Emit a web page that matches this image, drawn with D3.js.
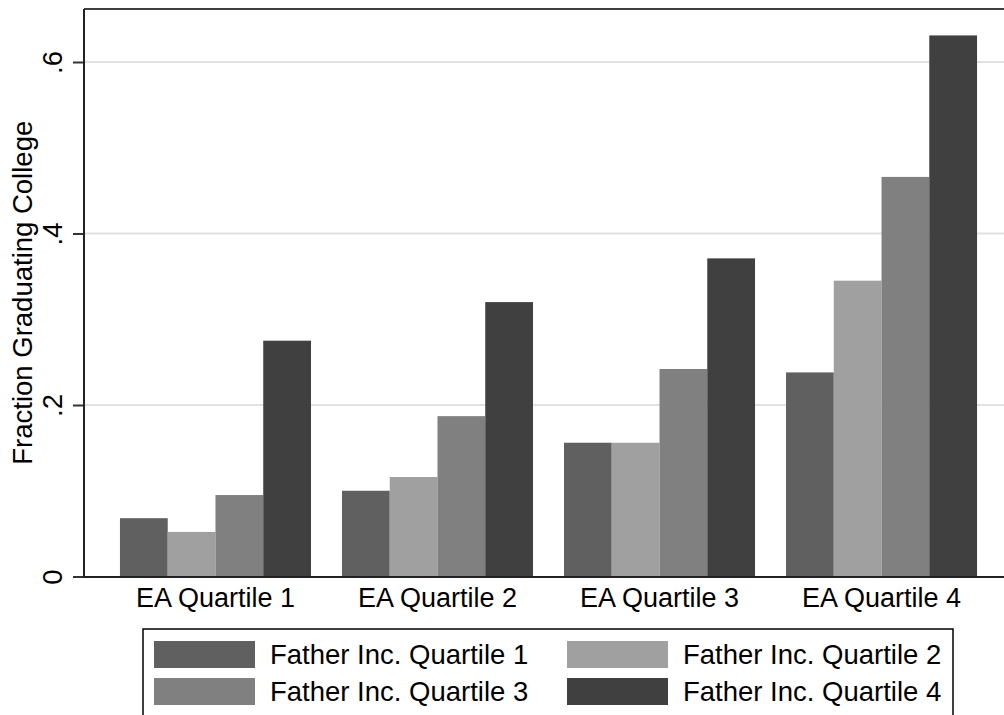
<!DOCTYPE html>
<html>
<head>
<meta charset="utf-8">
<script src="https://cdn.jsdelivr.net/npm/d3@7"></script>
<style>
  body { margin: 0; background: #fff; }
  text { font-family: Arial, "Liberation Sans", Helvetica, sans-serif; fill: #000; }
</style>
</head>
<body>
<div class="chart"></div>
<script>
const groups = ['EA Quartile 1', 'EA Quartile 2', 'EA Quartile 3', 'EA Quartile 4'];
const series = ['Father Inc. Quartile 1', 'Father Inc. Quartile 2', 'Father Inc. Quartile 3', 'Father Inc. Quartile 4'];
// one array per father income quartile, values across EA quartiles
const fatherQ1 = [0.068, 0.100, 0.156, 0.238];
const fatherQ2 = [0.052, 0.116, 0.156, 0.345];
const fatherQ3 = [0.095, 0.187, 0.242, 0.466];
const fatherQ4 = [0.275, 0.320, 0.371, 0.631];
const yTicks = [0, 0.2, 0.4, 0.6];

const values = [fatherQ1, fatherQ2, fatherQ3, fatherQ4];
const colors = d3.scaleOrdinal()
  .domain(series)
  .range(['#606060', '#a0a0a0', '#808080', '#404040']);

const chartWidth = 1004;
const chartHeight = 715;
const plot = { left: 84, right: 1013, top: 9, bottom: 576.5 };

const svg = d3.select('.chart')
  .append('svg')
  .attr('width', chartWidth)
  .attr('height', chartHeight);

const x0 = d3.scaleBand()
  .domain(groups)
  .range([plot.left, plot.right])
  .paddingInner(0.1396)
  .paddingOuter(0.162);

const x1 = d3.scaleBand()
  .domain(series)
  .range([0, x0.bandwidth()]);

const yScale = d3.scaleLinear()
  .domain([0, 0.6])
  .range([plot.bottom, 62]);

// gridlines
svg.append('g')
  .selectAll('line')
  .data(yTicks.filter(d => d > 0))
  .enter()
  .append('line')
  .attr('x1', plot.left)
  .attr('x2', plot.right)
  .attr('y1', d => yScale(d))
  .attr('y2', d => yScale(d))
  .attr('stroke', '#e1e1e1')
  .attr('stroke-width', 2);

// bars
const bars = svg.append('g')
  .selectAll('g')
  .data(groups)
  .enter()
  .append('g')
  .attr('transform', d => `translate(${x0(d)}, 0)`);

bars.selectAll('rect')
  .data((g, gi) => series.map((s, si) => ({ s, v: values[si][gi] })))
  .enter()
  .append('rect')
  .attr('x', d => x1(d.s))
  .attr('y', d => yScale(d.v))
  .attr('width', x1.bandwidth())
  .attr('height', d => yScale(0) - yScale(d.v))
  .attr('fill', d => colors(d.s));

// frame: top and left
svg.append('line')
  .attr('x1', plot.left).attr('x2', plot.right)
  .attr('y1', plot.top).attr('y2', plot.top)
  .attr('stroke', '#000').attr('stroke-width', 1.5);

// y axis
const yAxis = d3.axisLeft(yScale)
  .tickValues(yTicks)
  .tickSize(11)
  .tickPadding(0)
  .tickFormat(d => d === 0 ? '0' : d3.format('.1f')(d).replace(/^0/, ''));

const yAxisG = svg.append('g')
  .attr('transform', `translate(${plot.left}, 0)`)
  .call(yAxis);
yAxisG.select('.domain').remove();
yAxisG.selectAll('.tick line').attr('stroke', '#333').attr('stroke-width', 2);
yAxisG.selectAll('.tick text')
  .attr('x', null)
  .attr('dy', null)
  .attr('transform', 'translate(-22, 0) rotate(-90)')
  .attr('text-anchor', 'middle')
  .attr('font-size', 27.5)
  .attr('font-family', 'Arial, "Liberation Sans", sans-serif')
  .style('fill', '#000');

svg.append('line')
  .attr('x1', plot.left).attr('x2', plot.left)
  .attr('y1', plot.top).attr('y2', plot.bottom + 1)
  .attr('stroke', '#222').attr('stroke-width', 2);

// x axis line and labels
svg.append('line')
  .attr('x1', plot.left).attr('x2', plot.right)
  .attr('y1', plot.bottom + 0.5).attr('y2', plot.bottom + 0.5)
  .attr('stroke', '#222').attr('stroke-width', 2);

svg.append('g')
  .selectAll('text')
  .data(groups)
  .enter()
  .append('text')
  .attr('x', d => x0(d) + x0.bandwidth() / 2)
  .attr('y', 607)
  .attr('text-anchor', 'middle')
  .attr('font-size', 27)
  .text(d => d);

// y title
svg.append('text')
  .attr('transform', `translate(32, ${(plot.top + plot.bottom) / 2}) rotate(-90)`)
  .attr('text-anchor', 'middle')
  .attr('font-size', 27.5)
  .text('Fraction Graduating College');

// legend
const legend = svg.append('g');
legend.append('rect')
  .attr('x', 143)
  .attr('y', 629)
  .attr('width', 810)
  .attr('height', 120)
  .attr('fill', '#fff')
  .attr('stroke', '#000')
  .attr('stroke-width', 1.5);

const legendCols = [154, 567];
const legendRows = [641, 678];
const items = legend.selectAll('g.item')
  .data(series)
  .enter()
  .append('g')
  .attr('class', 'item')
  .attr('transform', (d, i) => `translate(${legendCols[i % 2]}, ${legendRows[Math.floor(i / 2)]})`);

items.append('rect')
  .attr('width', 101)
  .attr('height', 27)
  .attr('fill', d => colors(d));

items.append('text')
  .attr('x', 116)
  .attr('y', 13.5)
  .attr('dy', '0.35em')
  .attr('font-size', 27.5)
  .text(d => d);
</script>
</body>
</html>
